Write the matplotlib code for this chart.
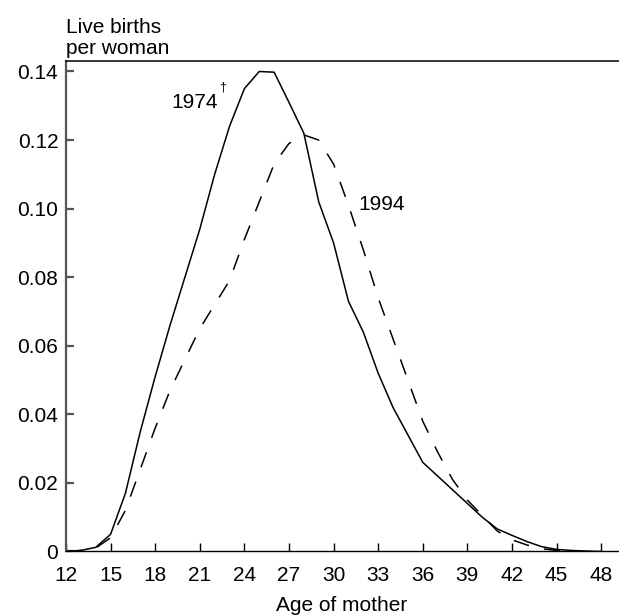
import matplotlib
matplotlib.use("Agg")
import matplotlib.pyplot as plt

plt.rcParams['font.family'] = ['Liberation Sans', 'DejaVu Sans']
plt.rcParams['lines.scale_dashes'] = False

ages = list(range(12, 49))
births_1974 = [0.0, 0.0003, 0.0012, 0.005, 0.017, 0.035, 0.051, 0.066, 0.080, 0.094,
               0.110, 0.124, 0.135, 0.140, 0.1398, 0.131, 0.122, 0.102, 0.090, 0.073,
               0.064, 0.052, 0.042, 0.034, 0.026, 0.022, 0.018, 0.014, 0.010, 0.0066,
               0.0047, 0.0029, 0.0014, 0.0006, 0.0003, 0.0001, 0.0]
births_1994 = [0.0, 0.0003, 0.001, 0.004, 0.012, 0.024, 0.036, 0.047, 0.056, 0.065,
               0.072, 0.079, 0.091, 0.102, 0.113, 0.119, 0.1215, 0.120, 0.113, 0.101,
               0.088, 0.074, 0.062, 0.050, 0.038, 0.029, 0.021, 0.015, 0.0105, 0.006,
               0.0034, 0.0019, 0.0008, 0.0003, 0.0001, 0.0, 0.0]
xticks = list(range(12, 49, 3))
yticks = [0, 0.02, 0.04, 0.06, 0.08, 0.10, 0.12, 0.14]
ylabels = ['0', '0.02', '0.04', '0.06', '0.08', '0.10', '0.12', '0.14']

fig = plt.figure(figsize=(6.19, 6.15), dpi=100)
ax = fig.add_axes([0.1066, 0.1033, 0.8934, 0.7975])

ax.plot(ages, births_1974, color='black', lw=1.1)
ax.plot(ages, births_1994, color='black', lw=1.1, dashes=(11.5, 11))

ax.set_xlim(12, 49.2)
ax.set_ylim(0, 0.14306)
ax.set_xticks(xticks)
ax.set_yticks(yticks)
ax.set_yticklabels(ylabels)

ax.spines['right'].set_visible(False)
ax.spines['left'].set_color('#555555')
ax.spines['left'].set_linewidth(1.6)
ax.spines['top'].set_linewidth(1.1)
ax.spines['bottom'].set_linewidth(1.0)
ax.tick_params(axis='x', direction='in', length=5.5, width=1.0, pad=10.5,
               labelsize=15, top=False)
ax.tick_params(axis='y', direction='in', length=5.5, width=1.6, color='#555555',
               pad=5.5, labelsize=15, right=False)

# axis titles placed by hand, as in the original
fig.text(342 / 619, 1 - 611 / 615, 'Age of mother', fontsize=15,
         ha='center', va='baseline')
fig.text(66 / 619, 1 - 53.5 / 615, 'Live births\nper woman', fontsize=15,
         ha='left', va='baseline', linespacing=1.12)

ax.text(19.1, 0.1294, '1974', fontsize=15, ha='left', va='baseline')
ax.text(22.3, 0.1346, '\u2020', fontsize=9, ha='left', va='baseline')
ax.text(31.67, 0.0996, '1994', fontsize=15, ha='left', va='baseline')

fig.savefig('out.png', dpi=100)
